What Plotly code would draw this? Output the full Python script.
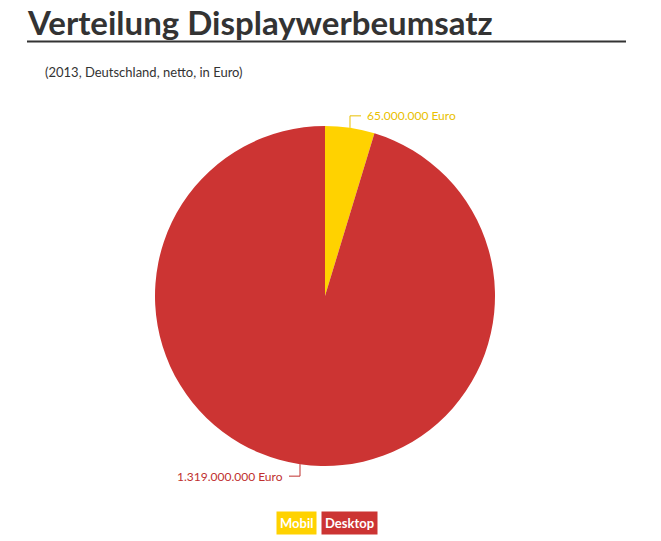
import math
import plotly.graph_objects as go

# data
categories = ["Mobil", "Desktop"]
values = [65000000, 1319000000]
colors = ["#FFD200", "#CC3433"]
label_colors = ["#E9BF00", "#C0302E"]
label_texts = ["65.000.000 Euro", "1.319.000.000 Euro"]

W, H = 661, 541
# pie geometry in pixels
cx, cy, r = 325, 296, 170

FONT = "Lato, sans-serif"


def px(x):
    return x / W


def py(y):
    return 1 - y / H


fig = go.Figure()
fig.add_trace(go.Pie(
    labels=categories,
    values=values,
    marker=dict(colors=colors, line=dict(width=0)),
    sort=False,
    direction="clockwise",
    rotation=0,
    textinfo="none",
    hoverinfo="label+value",
    showlegend=False,
    domain=dict(x=[px(cx - r), px(cx + r)], y=[py(cy + r), py(cy - r)]),
))

annotations = []
shapes = []

# leader lines and labels at the middle angle of each slice
total = sum(values)
start = 0
for val, txt, col in zip(values, label_texts, label_colors):
    frac = val / total
    mid = (start + frac / 2) * 2 * math.pi
    start += frac
    ex = cx + r * math.sin(mid)
    ey = cy - r * math.cos(mid)
    up = 1 if math.cos(mid) > 0 else -1
    side = 1 if math.sin(mid) > 0 else -1
    ly = ey - 12 * up
    lx = ex + 11 * side
    shapes.append(dict(
        type="path", xref="paper", yref="paper",
        path=f"M {px(ex)} {py(ey)} L {px(ex)} {py(ly)} L {px(lx)} {py(ly)}",
        line=dict(color=col, width=1),
    ))
    annotations.append(dict(
        x=px(lx + 4 * side), y=py(ly), xref="paper", yref="paper",
        text=txt, showarrow=False,
        xanchor="left" if side > 0 else "right", yanchor="middle",
        font=dict(family=FONT, size=12, color=col),
    ))

# title + underline + subtitle
annotations.append(dict(
    x=px(25), y=py(0), xref="paper", yref="paper",
    text="<b>Verteilung Displaywerbeumsatz</b>", showarrow=False,
    xanchor="left", yanchor="top",
    font=dict(family=FONT, size=33, color="#333333"),
))
shapes.append(dict(
    type="line", xref="paper", yref="paper",
    x0=px(27), x1=px(626), y0=py(41.5), y1=py(41.5),
    line=dict(color="#333333", width=2),
))
annotations.append(dict(
    x=px(43), y=py(72), xref="paper", yref="paper",
    text="(2013, Deutschland, netto, in Euro)", showarrow=False,
    xanchor="left", yanchor="middle",
    font=dict(family=FONT, size=13, color="#333333"),
))

# legend boxes
annotations.append(dict(
    x=px(317), y=py(523), xref="paper", yref="paper",
    text="<b>Mobil</b>", showarrow=False, xanchor="right", yanchor="middle",
    bgcolor=colors[0], borderpad=3,
    font=dict(family=FONT, size=13, color="white"),
))
annotations.append(dict(
    x=px(321), y=py(523), xref="paper", yref="paper",
    text="<b>Desktop</b>", showarrow=False, xanchor="left", yanchor="middle",
    bgcolor=colors[1], borderpad=3,
    font=dict(family=FONT, size=13, color="white"),
))

fig.update_layout(
    width=W, height=H, autosize=False,
    margin=dict(l=0, r=0, t=0, b=0),
    paper_bgcolor="white", plot_bgcolor="white",
    annotations=annotations, shapes=shapes,
)

# drop the default page margin so the figure sits at the window's corner
fig.write_html("out.html", config={"displayModeBar": False},
               post_script="document.body.style.margin='0';")
